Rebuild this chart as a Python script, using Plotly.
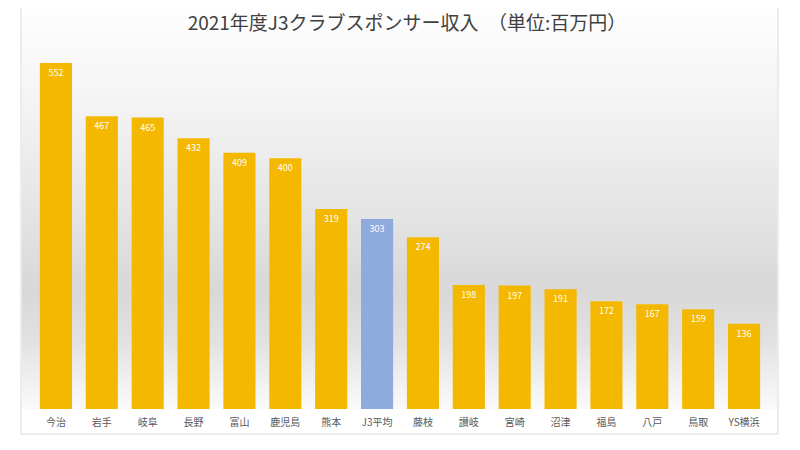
import plotly.graph_objects as go

categories = ["今治", "岩手", "岐阜", "長野", "富山", "鹿児島", "熊本", "J3平均",
              "藤枝", "讃岐", "宮崎", "沼津", "福島", "八戸", "鳥取", "YS横浜"]
values = [552, 467, 465, 432, 409, 400, 319, 303, 274, 198, 197, 191, 172, 167, 159, 136]
highlight = "J3平均"
title_text = "2021年度J3クラブスポンサー収入　（単位:百万円）"

GOLD = "#F4B800"
BLUE = "#8FAADC"
colors = [BLUE if c == highlight else GOLD for c in categories]

OFF = 8  # page body margin
W, H = 800 - OFF, 450 - OFF
L, T = 33 - OFF, 33 - OFF
R = W - (767 - OFF)
B = H - (409 - OFF)
pw, ph = W - L - R, H - T - B

def px_x(p):  # p in screenshot pixel coords
    return (p - OFF - L) / pw

def px_y(p):
    return (H - B - (p - OFF)) / ph

shapes = []
shapes.append(dict(type="rect", xref="paper", yref="paper",
                   x0=px_x(21), x1=px_x(778), y0=px_y(434), y1=px_y(-2),
                   fillcolor="white", line=dict(color="#D9D9D9", width=1), layer="below"))
stops = [(0, 255), (100, 244), (200, 230), (290, 216), (340, 225), (380, 240), (409, 250)]
def shade(y):
    for (y0, c0), (y1, c1) in zip(stops[:-1], stops[1:]):
        if y0 <= y <= y1:
            return c0 + (c1 - c0) * (y - y0) / (y1 - y0)
    return 255
step = 5
y = 8
while y < 409:
    y2 = min(y + step, 409)
    c = int(round(shade((y + y2) / 2)))
    shapes.append(dict(type="rect", xref="paper", yref="paper",
                       x0=px_x(22), x1=px_x(777), y0=px_y(y2), y1=px_y(y),
                       fillcolor=f"rgb({c},{c},{c})", line=dict(width=0), layer="below"))
    y = y2

fig = go.Figure()
fig.add_trace(go.Bar(
    x=categories, y=values,
    marker=dict(color=colors, line=dict(width=0)),
    text=[str(v) for v in values],
    textposition="inside", insidetextanchor="end",
    textfont=dict(color="white", size=9, family="Noto Sans CJK JP"),
    cliponaxis=False,
))

fig.update_layout(
    width=W, height=H,
    margin=dict(l=L, r=R, t=T, b=B),
    paper_bgcolor="white", plot_bgcolor="rgba(0,0,0,0)",
    bargap=0.3,
    showlegend=False,
    shapes=shapes,
    title=dict(text=title_text, x=(407 - OFF) / W, xanchor="center",
               y=1 - (23 - OFF) / H, yanchor="middle",
               font=dict(family="Noto Sans CJK JP", size=19, color="#404040")),
    xaxis=dict(range=[-0.5, len(categories) - 0.5], showgrid=False, zeroline=False,
               showline=False, ticks="", ticklabelstandoff=6,
               tickfont=dict(family="Noto Sans CJK JP", size=10, color="#595959")),
    yaxis=dict(range=[0, 600], visible=False),
    uniformtext=dict(minsize=8, mode="show"),
)

fig.write_html("out.html")
